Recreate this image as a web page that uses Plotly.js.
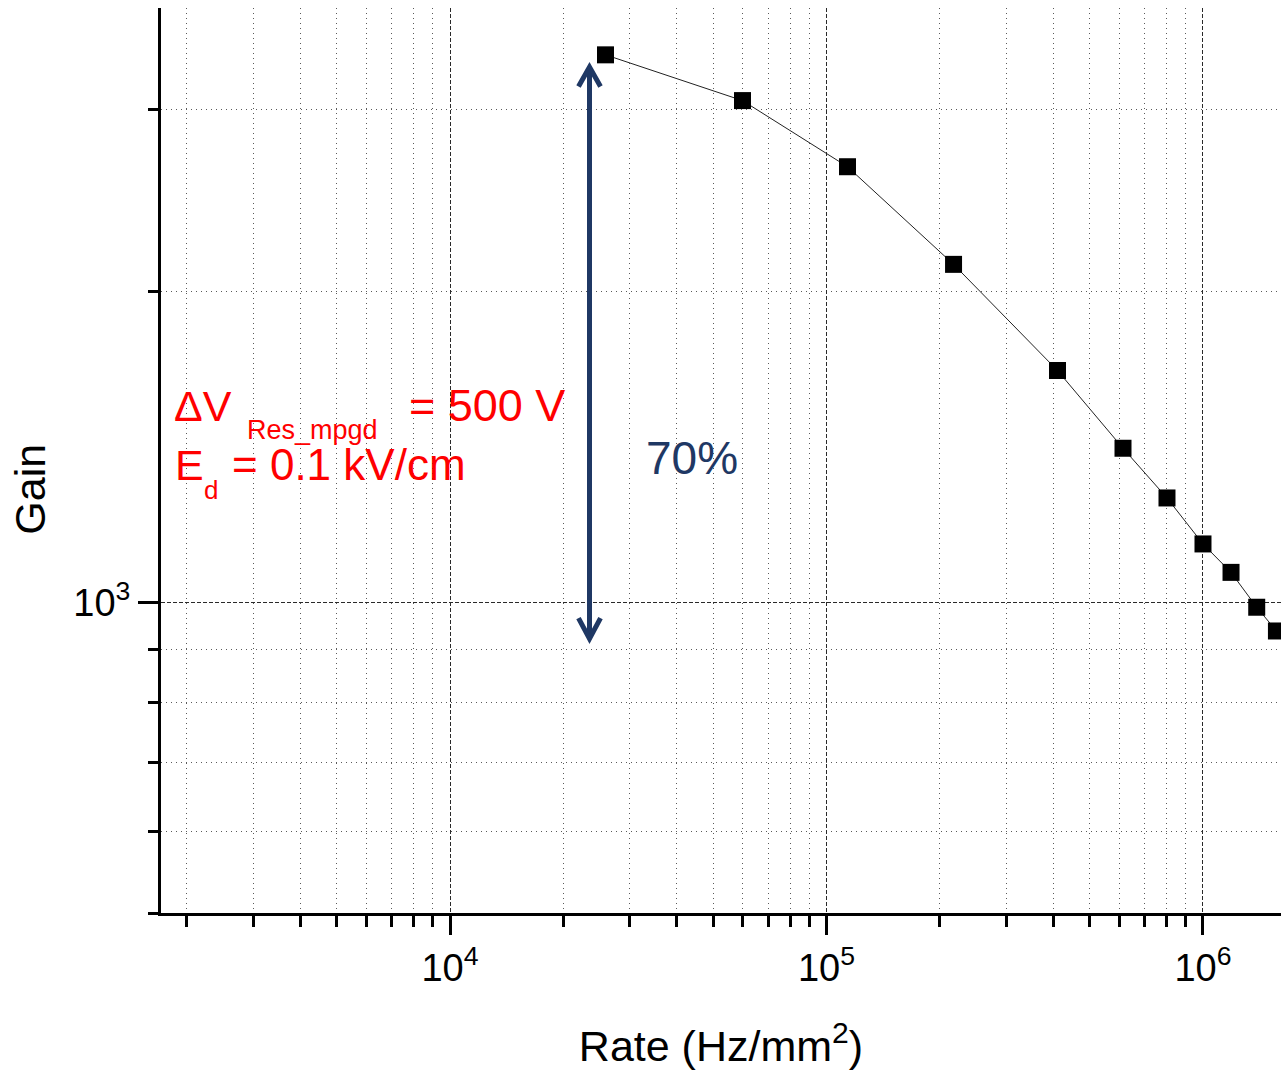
<!DOCTYPE html>
<html>
<head>
<meta charset="utf-8">
<script src="https://cdn.plot.ly/plotly-3.0.1.min.js"></script>
<style>
  html, body { margin: 0; padding: 0; background: #ffffff; }
  #chart { width: 1281px; height: 1070px; }
</style>
</head>
<body>
<div id="chart"></div>
<script>
// Gain versus particle rate (log-log)
const rate = [25880, 59830, 113700, 217500, 410700, 613100, 802400, 1000000, 1187000, 1389000, 1567000];
const gain = [3391, 3062, 2642, 2125, 1677, 1410, 1262, 1139, 1069, 989, 938];

// Axis ticks
const xMajorTicks = [1e4, 1e5, 1e6];
const xMajorLabels = ['10<sup>4</sup>', '10<sup>5</sup>', '10<sup>6</sup>'];
const xMinorTicks = [2e3, 3e3, 4e3, 5e3, 6e3, 7e3, 8e3, 9e3,
                     2e4, 3e4, 4e4, 5e4, 6e4, 7e4, 8e4, 9e4,
                     2e5, 3e5, 4e5, 5e5, 6e5, 7e5, 8e5, 9e5];
const yMajorTicks = [1e3];
const yMajorLabels = ['10<sup>3</sup>'];
const yMinorTicks = [500, 600, 700, 800, 900, 2000, 3000];

// Axis extents (log10)
const xRange = [3.2324, 6.2072];
const yRange = [2.699, 3.5757];

// Plot frame in pixels, used to place the overlay text and arrow
const FRAME = { l: 161, r: 1281, t: 8, b: 913.5 };
const W = 1281, H = 1070;
const px = v => (v - FRAME.l) / (FRAME.r - FRAME.l);
const py = v => (FRAME.b - v) / (FRAME.b - FRAME.t);

const NAVY = '#1f3864';
const RED = '#ff0000';
const SANS = 'Arial, "Liberation Sans", sans-serif';

const majorGrid = { color: '#2a2a2a', dash: '4px,2px' };
const minorGrid = { color: '#5a5a5a', dash: '1px,4px' };

const trace = {
  x: rate,
  y: gain,
  type: 'scatter',
  mode: 'lines+markers',
  line: { color: '#222222', width: 1 },
  marker: { symbol: 'square', size: 17, color: '#000000' },
  cliponaxis: false,
  showlegend: false,
  hoverinfo: 'x+y'
};

const layout = {
  width: W,
  height: H,
  margin: { l: FRAME.l, r: W - FRAME.r, t: FRAME.t, b: H - FRAME.b, pad: 0 },
  paper_bgcolor: '#ffffff',
  plot_bgcolor: '#ffffff',
  showlegend: false,
  font: { family: SANS, color: '#000000' },
  xaxis: {
    type: 'log',
    range: xRange,
    tickmode: 'array',
    tickvals: xMajorTicks,
    ticktext: xMajorLabels,
    ticks: 'outside',
    ticklen: 19,
    tickwidth: 3,
    tickcolor: '#000000',
    tickfont: { family: SANS, size: 38, color: '#000000' },
    showline: true,
    linewidth: 3,
    linecolor: '#000000',
    showgrid: true,
    gridcolor: majorGrid.color,
    griddash: majorGrid.dash,
    gridwidth: 1,
    zeroline: false,
    minor: {
      tickmode: 'array',
      tickvals: xMinorTicks,
      ticks: 'outside',
      ticklen: 11,
      tickwidth: 3,
      tickcolor: '#000000',
      showgrid: true,
      gridcolor: minorGrid.color,
      griddash: minorGrid.dash,
      gridwidth: 1
    },
    title: {
      text: 'Rate (Hz/mm<sup>2</sup>)',
      font: { family: SANS, size: 43, color: '#000000' },
      standoff: 44
    },
    automargin: false
  },
  xaxis2: {
    type: 'log',
    range: xRange,
    overlaying: 'x',
    side: 'top',
    anchor: 'y',
    tickmode: 'array',
    tickvals: xMajorTicks,
    ticks: 'inside',
    ticklen: 18,
    tickwidth: 3,
    tickcolor: '#000000',
    showticklabels: false,
    showline: true,
    linewidth: 3,
    linecolor: '#000000',
    showgrid: false,
    zeroline: false,
    minor: {
      tickmode: 'array',
      tickvals: xMinorTicks,
      ticks: 'inside',
      ticklen: 10,
      tickwidth: 3,
      tickcolor: '#000000',
      showgrid: false
    }
  },
  yaxis: {
    type: 'log',
    range: yRange,
    tickmode: 'array',
    tickvals: yMajorTicks,
    ticktext: yMajorLabels,
    ticks: 'outside',
    ticklen: 20,
    tickwidth: 3,
    tickcolor: '#000000',
    tickfont: { family: SANS, size: 38, color: '#000000' },
    showline: true,
    linewidth: 3,
    linecolor: '#000000',
    showgrid: true,
    gridcolor: majorGrid.color,
    griddash: majorGrid.dash,
    gridwidth: 1,
    zeroline: false,
    minor: {
      tickmode: 'array',
      tickvals: yMinorTicks,
      ticks: 'outside',
      ticklen: 10,
      tickwidth: 3,
      tickcolor: '#000000',
      showgrid: true,
      gridcolor: minorGrid.color,
      griddash: minorGrid.dash,
      gridwidth: 1
    },
    automargin: false
  },
  annotations: [
    // vertical axis label
    { xref: 'paper', yref: 'paper', x: px(30), y: py(490), text: 'Gain', textangle: -90,
      showarrow: false, xanchor: 'center', yanchor: 'middle',
      font: { family: SANS, size: 43, color: '#000000' } },
    // operating conditions
    { xref: 'paper', yref: 'paper', x: px(173), y: py(406), text: '\u0394V',
      showarrow: false, xanchor: 'left', yanchor: 'middle', borderpad: 0,
      font: { family: SANS, size: 43, color: RED } },
    { xref: 'paper', yref: 'paper', x: px(246), y: py(430), text: 'Res_mpgd',
      showarrow: false, xanchor: 'left', yanchor: 'middle', borderpad: 0,
      font: { family: SANS, size: 27, color: RED } },
    { xref: 'paper', yref: 'paper', x: px(408), y: py(406), text: '= 500 V',
      showarrow: false, xanchor: 'left', yanchor: 'middle', borderpad: 0,
      font: { family: SANS, size: 45, color: RED } },
    { xref: 'paper', yref: 'paper', x: px(174), y: py(465), text: 'E',
      showarrow: false, xanchor: 'left', yanchor: 'middle', borderpad: 0,
      font: { family: SANS, size: 43, color: RED } },
    { xref: 'paper', yref: 'paper', x: px(203), y: py(490), text: 'd',
      showarrow: false, xanchor: 'left', yanchor: 'middle', borderpad: 0,
      font: { family: SANS, size: 26, color: RED } },
    { xref: 'paper', yref: 'paper', x: px(231), y: py(465), text: '= 0.1 kV/cm',
      showarrow: false, xanchor: 'left', yanchor: 'middle', borderpad: 0,
      font: { family: SANS, size: 44, color: RED } },
    // relative gain drop
    { xref: 'paper', yref: 'paper', x: px(692), y: py(458), text: '70%',
      showarrow: false, xanchor: 'center', yanchor: 'middle',
      font: { family: SANS, size: 46, color: NAVY } }
  ],
  shapes: [
    // double-headed arrow spanning the gain drop
    { type: 'line', xref: 'paper', yref: 'paper',
      x0: px(589.5), y0: py(70), x1: px(589.5), y1: py(636),
      line: { color: NAVY, width: 5 } },
    { type: 'path', xref: 'paper', yref: 'paper',
      path: `M ${px(578.5)} ${py(86.5)} L ${px(589.5)} ${py(67)} L ${px(600.5)} ${py(86.5)}`,
      line: { color: NAVY, width: 5 } },
    { type: 'path', xref: 'paper', yref: 'paper',
      path: `M ${px(578.5)} ${py(618.5)} L ${px(589.5)} ${py(639)} L ${px(600.5)} ${py(618.5)}`,
      line: { color: NAVY, width: 5 } }
  ]
};

Plotly.newPlot('chart', [trace], layout, { displayModeBar: false, staticPlot: true });
</script>
</body>
</html>
